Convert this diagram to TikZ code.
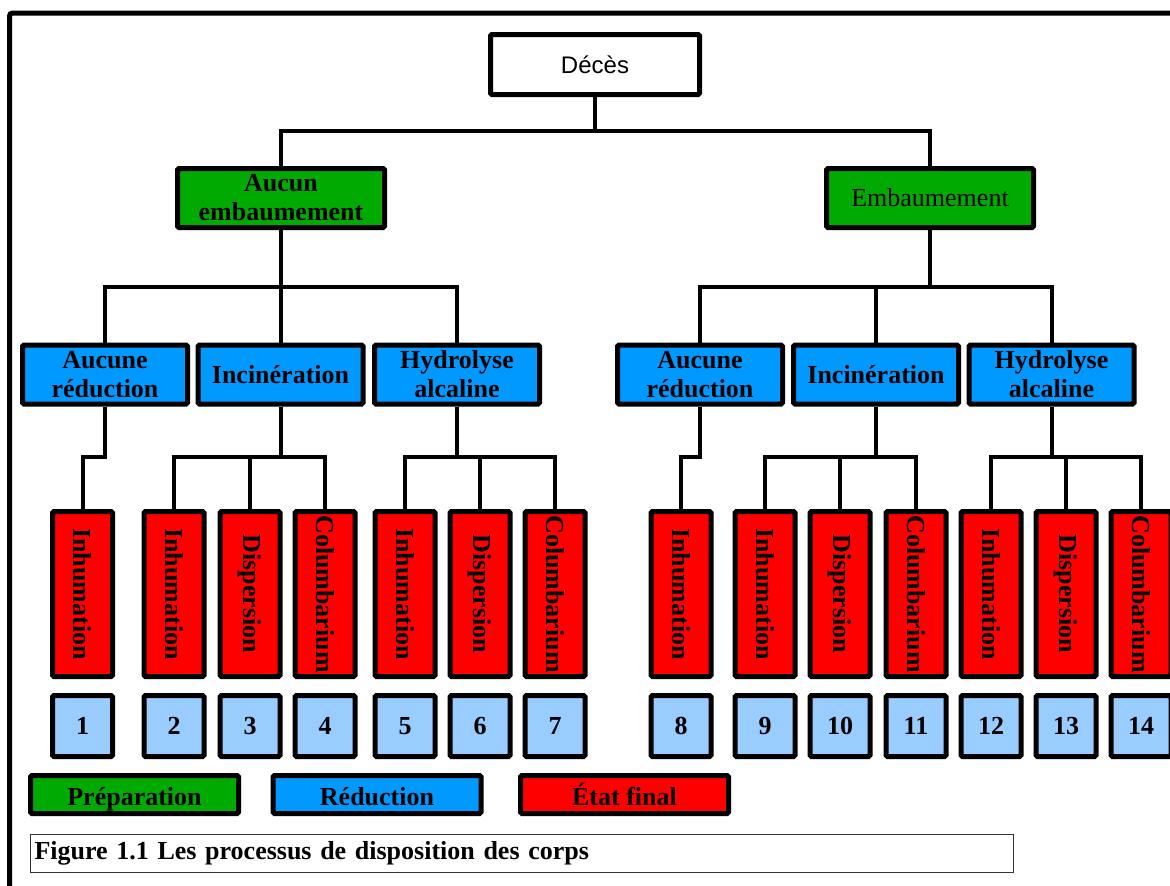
\documentclass[tikz,border=0pt]{standalone}
\usepackage{fontspec}
\setmainfont{Liberation Serif}
\newfontfamily\decesfont{Liberation Sans}
\usepackage{graphicx}
\usetikzlibrary{positioning}
\definecolor{prepgreen}{RGB}{0,170,0}
\definecolor{redblue}{RGB}{0,153,255}
\definecolor{finalred}{RGB}{255,0,0}
\definecolor{numblue}{RGB}{153,204,255}
\newcommand{\vtext}[1]{\rotatebox{-90}{#1}}

\begin{document}
\begin{tikzpicture}[
  x=1pt, y=-1pt,
  base/.style={draw=black, line width=5pt, rounded corners=1.5pt, align=center, inner sep=2pt, text=black, font=\fontsize{26}{29}\selectfont\bfseries},
  death/.style={base, fill=white, minimum width=209pt, minimum height=60pt, font=\decesfont\fontsize{24}{28}\selectfont},
  prep/.style={base, fill=prepgreen, minimum width=207pt, minimum height=59pt},
  reduc/.style={base, fill=redblue, minimum width=165pt, minimum height=59pt},
  final/.style={base, fill=finalred, minimum width=60pt, minimum height=165pt},
  num/.style={base, fill=numblue, minimum width=60pt, minimum height=61pt},
  legend/.style={base, minimum width=208pt, minimum height=38pt, text height=22pt, text depth=1pt},
  caption/.style={draw=black!80, line width=1.5pt, fill=white, text width=975pt, minimum height=38pt, align=left, inner sep=4pt, font=\fontsize{26}{29}\selectfont\bfseries},
  link/.style={line width=4pt, black},
  frame/.style={line width=5pt, rounded corners=3pt, black}
]
\useasboundingbox (0,0) rectangle (1170,886);
\fill[white] (0,0) rectangle (1170,886);
\clip (0,0) rectangle (1170,886);

% outer frame, cut off on the right and at the bottom
\draw[frame] (9.5,13) rectangle (1260,960);

% tree
\node[death] (deces) at (595,64.5) {Décès};

\node[prep] (noemb) at (281,198) {Aucun\\embaumement};
\node[prep, font=\fontsize{26}{29}\selectfont] (emb) at (930,198) {Embaumement};

\node[reduc] (nored1) at (105,374.5) {Aucune\\réduction};
\node[reduc] (incin1) at (280.5,374.5) {Incinération};
\node[reduc] (hydro1) at (457,374.5) {Hydrolyse\\alcaline};
\node[reduc] (nored2) at (700,374.5) {Aucune\\réduction};
\node[reduc] (incin2) at (876,374.5) {Incinération};
\node[reduc] (hydro2) at (1051.5,374.5) {Hydrolyse\\alcaline};

\node[final] (r1) at (82.5,594) {\vtext{Inhumation}};
\node[final] (r2) at (174,594) {\vtext{Inhumation}};
\node[final] (r3) at (250,594) {\vtext{Dispersion}};
\node[final] (r4) at (325,594) {\vtext{Columbarium}};
\node[final] (r5) at (405,594) {\vtext{Inhumation}};
\node[final] (r6) at (480,594) {\vtext{Dispersion}};
\node[final] (r7) at (555,594) {\vtext{Columbarium}};
\node[final] (r8) at (681,594) {\vtext{Inhumation}};
\node[final] (r9) at (765,594) {\vtext{Inhumation}};
\node[final] (r10) at (840,594) {\vtext{Dispersion}};
\node[final] (r11) at (916,594) {\vtext{Columbarium}};
\node[final] (r12) at (991,594) {\vtext{Inhumation}};
\node[final] (r13) at (1066,594) {\vtext{Dispersion}};
\node[final] (r14) at (1141,594) {\vtext{Columbarium}};

\foreach \i in {1,...,14}
  \node[num, below=14pt of r\i] (n\i) {\i};

% connectors
\draw[link] (deces.south) -- ++(0,34) -| (noemb.north);
\draw[link] (deces.south) -- ++(0,34) -| (emb.north);

\draw[link] (noemb.south) -- ++(0,57) -| (nored1.north);
\draw[link] (noemb.south) -- ++(0,57) -| (incin1.north);
\draw[link] (noemb.south) -- ++(0,57) -| (hydro1.north);
\draw[link] (emb.south) -- ++(0,57) -| (nored2.north);
\draw[link] (emb.south) -- ++(0,57) -| (incin2.north);
\draw[link] (emb.south) -- ++(0,57) -| (hydro2.north);

\draw[link] (nored1.south) -- ++(0,50.5) -| (r1.north);
\draw[link] (incin1.south) -- ++(0,50.5) -| (r2.north);
\draw[link] (incin1.south) -- ++(0,50.5) -| (r3.north);
\draw[link] (incin1.south) -- ++(0,50.5) -| (r4.north);
\draw[link] (hydro1.south) -- ++(0,50.5) -| (r5.north);
\draw[link] (hydro1.south) -- ++(0,50.5) -| (r6.north);
\draw[link] (hydro1.south) -- ++(0,50.5) -| (r7.north);
\draw[link] (nored2.south) -- ++(0,50.5) -| (r8.north);
\draw[link] (incin2.south) -- ++(0,50.5) -| (r9.north);
\draw[link] (incin2.south) -- ++(0,50.5) -| (r10.north);
\draw[link] (incin2.south) -- ++(0,50.5) -| (r11.north);
\draw[link] (hydro2.south) -- ++(0,50.5) -| (r12.north);
\draw[link] (hydro2.south) -- ++(0,50.5) -| (r13.north);
\draw[link] (hydro2.south) -- ++(0,50.5) -| (r14.north);

% legend and caption
\node[legend, fill=prepgreen] (lprep) at (134.5,794.5) {Préparation};
\node[legend, fill=redblue] (lreduc) at (377,794.5) {Réduction};
\node[legend, fill=finalred] (lfinal) at (624.5,794.5) {État final};

\node[caption] (cap) at (522,853.5) {Figure 1.1 Les processus de disposition des corps};
\end{tikzpicture}
\end{document}
